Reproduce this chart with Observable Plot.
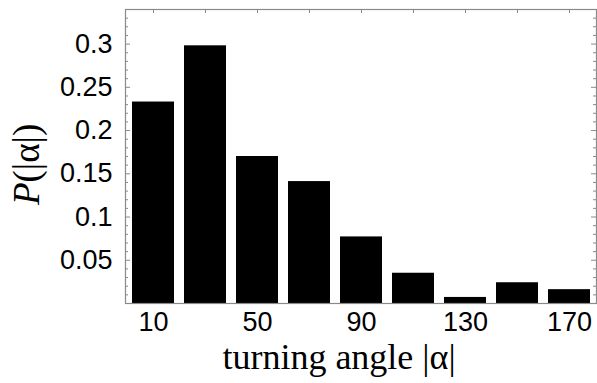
<!DOCTYPE html>
<html><head><meta charset="utf-8">
<script src="https://cdn.jsdelivr.net/npm/d3@7"></script>
<script src="https://cdn.jsdelivr.net/npm/@observablehq/plot@0.6"></script>
<style>body{margin:0;background:#fff}</style>
</head><body><div id="chart"></div>
<script>
const angles = [10, 30, 50, 70, 90, 110, 130, 150, 170];
const probs = [0.233, 0.298, 0.170, 0.141, 0.077, 0.035, 0.007, 0.024, 0.016];
const xTickLabels = [10, 50, 90, 130, 170];
const yTickLabels = [0.05, 0.1, 0.15, 0.2, 0.25, 0.3];
const yMinorTicks = d3.range(1, 34).map(i => i / 100).filter(v => Math.round(v * 100) % 5 !== 0);
const xLabel = "turning angle |α|";

const data = angles.map((a, i) => ({angle: a, p: probs[i]}));

const W = 597, H = 383, ML = 125, MR = 1, MT = 9, MB = 80;
const FW = W - ML - MR, FH = H - MT - MB;
const grey = "#8a8a8a";

const chart = Plot.plot({
  width: W, height: H,
  marginLeft: ML, marginRight: MR, marginTop: MT, marginBottom: MB,
  style: {fontFamily: "'Liberation Sans', Arial, sans-serif", fontSize: "27px", color: "black", background: "white"},
  x: {type: "band", domain: angles, paddingInner: 0.2, paddingOuter: 0.1, axis: null},
  y: {domain: [0, 0.34], axis: null},
  marks: [
    Plot.barY(data, {x: "angle", y: "p", fill: "black"}),
    Plot.frame({stroke: grey, strokeWidth: 1.2}),
    Plot.ruleY(yTickLabels, {stroke: grey, insetRight: FW - 5}),
    Plot.ruleY(yTickLabels, {stroke: grey, insetLeft: FW - 5}),
    Plot.ruleY(yMinorTicks, {stroke: grey, insetRight: FW - 3}),
    Plot.ruleY(yMinorTicks, {stroke: grey, insetLeft: FW - 3}),
    Plot.ruleX(angles, {x: d => d, stroke: grey, insetBottom: FH - 4}),
    Plot.axisY({ticks: yTickLabels, tickSize: 0, tickPadding: 13, tickFormat: d => String(d), fontSize: 27, label: null}),
    Plot.axisX({ticks: xTickLabels, tickSize: 0, tickPadding: 8, fontSize: 27, label: null}),
    Plot.text([xLabel], {text: d => d, frameAnchor: "bottom", dx: -22, dy: 65, fontSize: 36, fontFamily: "'Liberation Serif', 'Times New Roman', serif", fill: "black"}),
    Plot.text(["P"], {text: d => d, frameAnchor: "left", rotate: -90, textAnchor: "end", dx: -98, dy: 26, fontSize: 37, fontStyle: "italic", fontFamily: "'Liberation Serif', serif", fill: "black"}),
    Plot.text(["(|α|)"], {text: d => d, frameAnchor: "left", rotate: -90, textAnchor: "start", dx: -98, dy: 26, fontSize: 37, fontFamily: "'Liberation Serif', serif", fill: "black"})
  ]
});
document.getElementById("chart").appendChild(chart);
</script>
</body></html>
